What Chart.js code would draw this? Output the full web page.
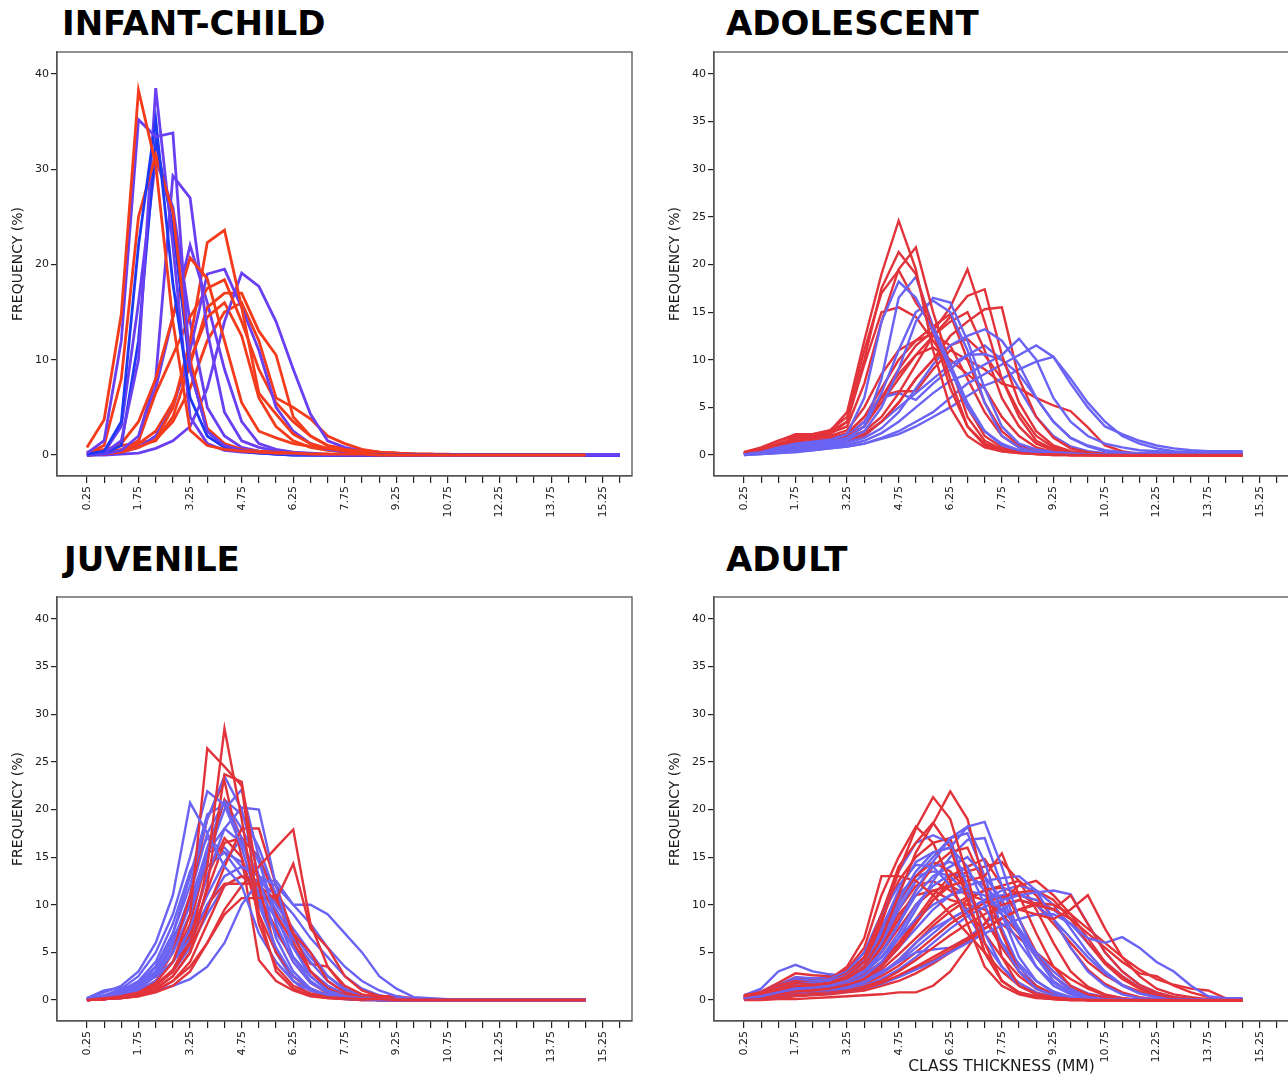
<!DOCTYPE html>
<html>
<head>
<meta charset="utf-8">
<script src="https://cdn.jsdelivr.net/npm/chart.js@4.4.0/dist/chart.umd.min.js"></script>
<style>
  body { margin: 0; background: #fff; width: 1288px; height: 1077px; overflow: hidden; position: relative; }
  .ttl { position: absolute; font: bold 34px 'DejaVu Sans', sans-serif; line-height: 34px; color: #000; white-space: nowrap; }
  canvas { position: absolute; }
</style>
</head>
<body>
<div class="ttl" style="left:62px;top:6px">INFANT-CHILD</div>
<div class="ttl" style="left:726px;top:6px">ADOLESCENT</div>
<div class="ttl" style="left:64px;top:542px">JUVENILE</div>
<div class="ttl" style="left:726px;top:542px">ADULT</div>
<canvas id="c1" width="640" height="490" style="left:0;top:40px"></canvas>
<canvas id="c2" width="640" height="490" style="left:657px;top:40px"></canvas>
<canvas id="c3" width="640" height="490" style="left:0;top:585px"></canvas>
<canvas id="c4" width="640" height="492" style="left:657px;top:585px"></canvas>
<script>
// class thickness (mm), bin centres
const xs = [0.25,0.75,1.25,1.75,2.25,2.75,3.25,3.75,4.25,4.75,5.25,5.75,6.25,6.75,7.25,7.75,
            8.25,8.75,9.25,9.75,10.25,10.75,11.25,11.75,12.25,12.75,13.25,13.75,14.25,14.75,15.25,15.75];
const xLabels = ['0.25','1.75','3.25','4.75','6.25','7.75','9.25','10.75','12.25','13.75','15.25'];
const yTicksInfant = [0,10,20,30,40];
const yTicks = [0,5,10,15,20,25,30,35,40];

// ---- infant-child ----
const infantRed = [
  [0.8,3.7,14.8,38.3,30.5,14.0,2.6,1.0,0.6,0.4, 0.3,0.2,0.2,0.1,0.1,0.1,0.1,0,0,0, 0,0,0,0,0,0,0,0,0,0],
  [0.2,1.0,8.0,25.0,31.5,25.5,10.0,2.8,1.2,0.6, 0.4,0.3,0.2,0.1,0.1,0,0,0,0,0, 0,0,0,0,0,0,0,0,0,0],
  [0.1,0.3,1.2,3.5,8.0,14.5,20.7,18.5,12.0,5.5, 2.5,1.8,1.2,0.9,0.7,0.5,0.4,0.3,0.2,0.1, 0.1,0,0,0,0,0,0,0,0,0],
  [0,0.1,0.3,0.8,1.6,5.0,12.0,22.3,23.6,15.5, 6.5,4.3,2.2,1.2,0.7,0.4,0.3,0.2,0.1,0.1, 0,0,0,0,0,0,0,0,0,0],
  [0,0.1,0.5,1.5,6.5,10.5,14.5,17.5,18.4,14.0, 9.0,5.5,3.5,2.0,1.0,0.6,0.4,0.2,0.1,0.1, 0,0,0,0,0,0,0,0,0,0],
  [0.1,0.2,0.4,1.0,1.5,4.0,9.5,15.5,17.0,17.0, 13.0,10.5,4.0,2.0,1.0,0.7,0.5,0.3,0.2,0.1, 0.1,0.1,0,0,0,0,0,0,0,0],
  [0,0.2,0.6,1.2,2.5,5.5,10.0,14.5,16.0,12.5, 6.0,3.0,1.5,0.8,0.5,0.3,0.2,0.1,0.1,0, 0,0,0,0,0,0,0,0,0,0],
  [0.3,0.6,1.0,1.3,1.6,3.5,7.0,12.0,15.0,16.0, 12.0,6.0,5.0,3.8,2.0,1.2,0.6,0.3,0.2,0.1, 0.1,0,0,0,0,0,0,0,0,0]
];
const infantPurple = [
  [0.2,1.5,12.0,35.2,33.4,33.8,9.0,2.5,1.0,0.5, 0.3,0.2,0.1,0.1,0,0,0,0,0,0, 0,0,0,0,0,0,0,0,0,0, 0,0],
  [0,0.2,1.5,10.0,38.5,22.0,4.0,1.2,0.5,0.3, 0.2,0.1,0.1,0,0,0,0,0,0,0, 0,0,0,0,0,0,0,0,0,0, 0,0],
  [0,0.1,0.5,2.0,8.0,29.3,27.0,13.0,4.5,1.5, 0.8,0.4,0.2,0.1,0,0,0,0,0,0, 0,0,0,0,0,0,0,0,0,0, 0,0],
  [0,0.1,0.3,0.8,2.0,5.0,11.0,19.0,19.5,15.5, 11.0,5.0,2.5,1.2,0.6,0.3,0.2,0.1,0,0, 0,0,0,0,0,0,0,0,0,0, 0,0],
  [0,0,0.1,0.2,0.7,1.5,3.0,7.0,14.0,19.1, 17.7,14.0,9.0,4.3,1.5,0.8,0.4,0.2,0.1,0.1, 0,0,0,0,0,0,0,0,0,0, 0,0],
  [0,0.3,3.0,16.0,31.0,26.0,14.0,5.0,2.0,0.8, 0.4,0.2,0.1,0.1,0,0,0,0,0,0, 0,0,0,0,0,0,0,0,0,0, 0,0],
  [0,0.1,0.4,1.5,7.0,14.5,22.0,16.0,9.0,3.5, 1.2,0.6,0.3,0.2,0.1,0,0,0,0,0, 0,0,0,0,0,0,0,0,0,0, 0,0]
];
const infantBlue = [
  [0.1,0.4,3.5,22.0,35.2,18.0,6.0,2.0,0.8,0.4, 0.2,0.1,0,0,0,0,0,0,0,0, 0,0,0,0,0,0,0,0,0,0, 0,0],
  [0,0.2,1.0,12.0,33.0,24.0,9.0,2.5,1.0,0.5, 0.3,0.1,0,0,0,0,0,0,0,0, 0,0,0,0,0,0,0,0,0,0, 0,0]
];

// ---- adolescent ----
const adolRed = [
  [0.3,0.8,1.5,2.0,2.2,2.5,4.5,12.0,19.0,24.6, 19.5,11.0,5.0,2.0,0.8,0.4,0.2,0.1,0.1,0, 0,0,0,0,0,0,0,0,0,0],
  [0.2,0.6,1.2,1.8,2.0,2.5,3.5,10.0,17.5,21.3, 19.0,13.0,7.0,3.0,1.2,0.5,0.3,0.1,0,0, 0,0,0,0,0,0,0,0,0,0],
  [0.2,0.5,1.0,1.5,2.0,2.3,3.0,7.5,14.0,19.5, 21.8,15.0,9.5,4.0,1.5,0.6,0.3,0.2,0.1,0, 0,0,0,0,0,0,0,0,0,0],
  [0.3,0.7,1.5,2.2,2.2,2.6,4.0,11.0,17.0,19.4, 16.0,13.5,8.0,3.0,1.0,0.4,0.2,0.1,0,0, 0,0,0,0,0,0,0,0,0,0],
  [0.2,0.5,1.2,1.6,1.8,2.2,3.5,9.5,15.0,15.5, 14.5,12.0,9.5,5.0,2.0,0.8,0.3,0.2,0.1,0, 0,0,0,0,0,0,0,0,0,0],
  [0.1,0.3,0.8,1.2,1.4,1.6,2.0,3.0,6.0,9.0, 11.5,13.0,15.5,19.5,14.0,8.0,4.0,1.5,0.6,0.3, 0.2,0.1,0,0,0,0,0,0,0,0],
  [0.1,0.2,0.6,1.0,1.2,1.5,1.8,2.5,4.0,6.5, 9.5,12.5,14.5,16.7,17.4,10.5,5.5,2.5,1.0,0.4, 0.2,0.1,0,0,0,0,0,0,0,0],
  [0.1,0.2,0.5,0.8,1.0,1.3,1.6,2.2,3.5,5.5, 8.0,10.0,12.5,14.0,15.3,15.5,8.0,4.0,1.8,0.7, 0.3,0.1,0,0,0,0,0,0,0,0],
  [0.1,0.3,0.7,1.0,1.3,1.6,2.0,3.0,5.5,8.0, 10.5,12.5,14.0,15.0,11.0,6.0,3.0,1.2,0.5,0.2, 0.1,0,0,0,0,0,0,0,0,0],
  [0.2,0.4,1.0,1.3,1.5,1.8,2.3,4.0,7.0,10.0, 12.0,13.5,14.8,10.0,5.5,2.5,1.0,0.4,0.2,0.1, 0,0,0,0,0,0,0,0,0,0],
  [0.2,0.5,1.2,1.5,1.7,2.0,2.6,5.0,8.5,11.0, 12.0,12.7,11.5,8.0,4.5,2.0,0.8,0.3,0.1,0, 0,0,0,0,0,0,0,0,0,0],
  [0.1,0.3,0.8,1.2,1.3,1.6,2.2,4.0,6.2,6.7, 6.7,9.0,11.0,10.0,9.0,7.5,7.0,6.0,5.2,4.6, 2.9,1.0,0.4,0.1,0,0,0,0,0,0],
  [0.1,0.3,0.8,1.0,1.2,1.5,2.0,3.5,6.0,8.5, 10.5,11.3,10.0,8.5,7.0,4.0,2.0,0.8,0.3,0.1, 0,0,0,0,0,0,0,0,0,0],
  [0.1,0.2,0.5,0.8,1.0,1.2,1.5,2.0,3.5,5.5, 8.0,10.0,11.5,12.2,10.5,8.0,4.5,2.0,0.8,0.3, 0.1,0,0,0,0,0,0,0,0,0]
];
const adolBlue = [
  [0.1,0.3,0.8,1.2,1.4,1.6,2.2,6.0,14.0,18.2, 16.5,13.0,9.0,5.0,2.5,1.2,0.5,0.3,0.2,0.1, 0.1,0.1,0.1,0.1,0.1,0.1,0.1,0.1,0.1,0.1],
  [0.1,0.2,0.6,1.0,1.2,1.4,1.8,3.0,8.0,16.5, 18.7,13.5,9.5,5.5,2.5,1.0,0.5,0.2,0.1,0.1, 0.1,0.1,0.1,0.1,0.1,0.1,0.1,0.1,0.1,0.1],
  [0.1,0.2,0.5,0.8,1.0,1.2,1.6,2.5,5.0,9.0, 14.0,16.5,16.0,12.0,7.0,3.0,1.2,0.6,0.3,0.2, 0.1,0.1,0.1,0.1,0.1,0.1,0.1,0.1,0.1,0.1],
  [0.1,0.2,0.6,0.9,1.0,1.3,1.8,3.0,6.5,11.0, 15.0,16.2,15.0,11.0,5.5,2.0,0.8,0.3,0.2,0.1, 0.1,0.1,0.1,0.1,0.1,0.1,0.1,0.1,0.1,0.1],
  [0.1,0.2,0.4,0.6,0.8,1.0,1.3,1.8,2.8,4.5, 7.0,9.5,11.5,12.5,13.2,12.0,9.5,6.0,3.5,1.8, 1.0,0.5,0.3,0.2,0.2,0.2,0.2,0.2,0.2,0.2],
  [0.1,0.2,0.4,0.6,0.7,0.9,1.1,1.5,2.3,3.5, 5.0,6.5,7.8,8.5,9.5,10.5,12.2,10.0,6.0,3.5, 2.0,1.2,0.8,0.5,0.4,0.3,0.3,0.3,0.3,0.3],
  [0,0.1,0.2,0.4,0.5,0.7,0.9,1.2,1.8,2.5, 3.5,4.5,6.0,7.5,8.5,9.5,10.5,11.5,10.3,7.5, 5.0,3.0,2.2,1.5,1.0,0.7,0.5,0.4,0.4,0.4],
  [0.1,0.2,0.4,0.7,0.9,1.1,1.5,2.2,3.5,5.0, 6.5,8.0,9.5,10.5,10.6,10.0,8.5,6.0,3.5,1.8, 0.9,0.4,0.2,0.1,0.1,0.1,0.1,0.1,0.1,0.1],
  [0.1,0.2,0.5,0.8,1.0,1.3,2.0,3.5,6.0,6.5, 5.8,7.5,9.0,10.5,11.5,10.0,7.0,4.0,2.0,0.9, 0.4,0.2,0.1,0.1,0.1,0.1,0.1,0.1,0.1,0.1],
  [0,0.1,0.2,0.3,0.5,0.7,0.9,1.2,1.7,2.2, 3.0,4.0,5.0,6.2,7.3,8.0,9.0,9.8,10.3,8.0, 5.5,3.5,2.0,1.2,0.7,0.4,0.3,0.3,0.3,0.3]
];

// ---- juvenile ----
const juvRed = [
  [0,0.1,0.3,0.6,1.5,3.0,6.0,14.0,28.5,19.0, 8.0,3.5,1.5,0.7,0.3,0.2,0.1,0.1,0,0, 0,0,0,0,0,0,0,0,0,0],
  [0,0.2,0.4,0.8,1.8,4.0,9.0,26.4,24.5,22.5, 9.0,3.0,1.2,0.5,0.2,0.1,0,0,0,0, 0,0,0,0,0,0,0,0,0,0],
  [0,0.1,0.2,0.5,1.2,2.5,5.0,12.0,23.7,22.9, 12.0,5.0,2.5,1.0,0.4,0.2,0.1,0,0,0, 0,0,0,0,0,0,0,0,0,0],
  [0,0.1,0.2,0.4,0.8,1.5,3.0,6.0,9.5,12.0, 14.0,16.0,17.9,8.0,3.5,1.5,0.6,0.3,0.1,0, 0,0,0,0,0,0,0,0,0,0],
  [0,0.1,0.2,0.5,1.0,2.0,4.0,8.0,12.0,13.0, 12.0,10.5,14.3,7.5,5.5,2.5,1.0,0.4,0.1,0, 0,0,0,0,0,0,0,0,0,0],
  [0,0.1,0.3,0.6,1.2,2.5,5.0,9.5,14.0,18.0, 18.0,12.0,7.0,3.0,1.2,0.5,0.2,0.1,0,0, 0,0,0,0,0,0,0,0,0,0],
  [0,0.1,0.3,0.7,1.5,3.0,6.0,10.0,12.2,12.2, 12.2,9.0,6.0,3.0,1.2,0.5,0.2,0.1,0,0, 0,0,0,0,0,0,0,0,0,0],
  [0,0.1,0.2,0.4,1.0,2.0,3.5,6.0,9.0,10.7, 10.7,11.0,7.0,5.0,2.0,0.8,0.3,0.1,0,0, 0,0,0,0,0,0,0,0,0,0],
  [0,0.1,0.3,0.8,2.0,5.0,11.0,19.0,23.0,15.0, 4.2,2.0,1.0,0.4,0.2,0.1,0,0,0,0, 0,0,0,0,0,0,0,0,0,0],
  [0,0.1,0.3,0.7,1.5,3.0,7.0,13.0,17.0,15.0, 9.0,5.0,2.5,1.2,0.5,0.2,0.1,0,0,0, 0,0,0,0,0,0,0,0,0,0],
  [0,0.2,0.5,1.0,2.0,4.0,8.0,15.0,21.0,17.0, 11.0,7.5,4.0,1.8,0.7,0.3,0.1,0,0,0, 0,0,0,0,0,0,0,0,0,0],
  [0.1,0.2,0.4,0.8,1.6,3.2,6.5,11.5,16.5,17.0, 15.0,10.5,6.5,3.8,3.5,1.2,0.5,0.4,0.4,0.2, 0.1,0.1,0.1,0.1,0.1,0.1,0.1,0.1,0.1,0.1]
];
const juvBlue = [
  [0.2,0.8,1.5,3.0,6.0,11.0,20.7,17.5,14.0,12.0, 7.0,4.0,2.0,1.0,0.5,0.2,0.1,0,0,0, 0,0,0,0,0,0,0,0,0,0],
  [0.1,0.5,1.2,2.5,5.0,9.0,15.0,21.9,20.5,16.0, 10.0,5.5,2.5,1.2,0.5,0.2,0.1,0,0,0, 0,0,0,0,0,0,0,0,0,0],
  [0.1,0.3,0.8,1.8,3.5,7.0,12.0,19.0,23.5,20.0, 13.0,6.5,3.0,1.2,0.5,0.2,0.1,0,0,0, 0,0,0,0,0,0,0,0,0,0],
  [0.1,0.2,0.6,1.2,2.5,5.0,9.0,15.0,20.0,22.1, 15.0,8.0,4.0,1.8,0.8,0.3,0.1,0,0,0, 0,0,0,0,0,0,0,0,0,0],
  [0,0.2,0.5,1.0,2.0,4.0,7.5,13.0,18.0,20.2, 20.0,12.0,5.5,2.5,1.0,0.4,0.2,0.1,0,0, 0,0,0,0,0,0,0,0,0,0],
  [0.1,0.3,0.8,1.5,2.5,4.0,6.5,10.0,13.0,14.0, 13.0,12.0,10.0,10.0,9.0,7.0,5.0,2.5,1.2,0.3, 0.2,0.1,0.1,0.1,0.1,0.1,0.1,0.1,0.1,0.1],
  [0,0.1,0.2,0.5,1.0,1.5,2.2,3.5,6.0,10.0, 12.5,12.5,10.0,8.0,5.5,3.5,2.0,1.0,0.4,0.1, 0.1,0.1,0.1,0.1,0.1,0.1,0.1,0.1,0.1,0.1],
  [0.2,1.0,1.3,1.5,3.5,7.0,13.0,19.5,20.5,17.0, 11.0,5.0,2.0,0.5,0.3,0.1,0,0,0,0, 0,0,0,0,0,0,0,0,0,0],
  [0.1,0.3,0.7,1.5,3.0,6.0,11.0,17.5,20.8,18.0, 14.5,9.0,4.5,2.0,0.8,0.3,0.1,0,0,0, 0,0,0,0,0,0,0,0,0,0],
  [0,0.2,0.6,1.5,3.0,6.0,10.5,15.5,18.0,16.5, 13.0,10.0,7.5,5.0,2.5,1.2,0.5,0.2,0,0, 0,0,0,0,0,0,0,0,0,0],
  [0.1,0.3,0.8,1.8,3.5,6.5,10.0,14.0,15.5,14.5, 12.0,9.5,6.5,4.0,2.0,0.8,0.3,0.1,0,0, 0,0,0,0,0,0,0,0,0,0],
  [0,0.2,0.5,1.2,2.5,5.0,9.0,15.5,16.0,14.0, 10.5,7.0,4.5,2.5,1.0,0.4,0.2,0,0,0, 0,0,0,0,0,0,0,0,0,0],
  [0.1,0.4,1.0,2.0,4.0,8.0,13.5,17.0,15.5,13.0, 11.5,8.5,5.5,3.0,1.5,0.6,0.2,0,0,0, 0,0,0,0,0,0,0,0,0,0],
  [0,0.1,0.4,1.0,2.0,4.0,7.0,11.0,14.5,17.0, 15.0,11.0,7.0,4.5,2.5,1.0,0.4,0.1,0,0, 0,0,0,0,0,0,0,0,0,0],
  [0,0.1,0.3,0.8,1.6,3.0,5.5,9.0,12.0,13.0, 12.5,11.0,9.0,6.5,4.5,2.5,1.2,0.5,0.2,0, 0,0,0,0,0,0,0,0,0,0],
  [0.1,0.2,0.5,1.2,2.8,5.5,10.0,16.0,21.0,19.5, 16.0,11.0,6.0,3.0,1.5,0.6,0.2,0,0,0, 0,0,0,0,0,0,0,0,0,0]
];

// ---- adult ----
const adultRed = [
  [0.4,0.7,1.2,1.8,1.6,1.8,2.5,4.0,8.0,13.5, 18.0,21.3,19.0,13.0,6.0,2.0,0.8,0.4,0.2,0.1, 0,0,0,0,0,0,0,0,0,0],
  [0.3,0.6,1.0,1.5,1.4,1.7,2.2,3.5,6.5,11.0, 15.5,18.5,21.9,19.0,12.0,4.5,1.5,0.6,0.3,0.1, 0,0,0,0,0,0,0,0,0,0],
  [0.5,0.8,1.5,2.0,1.8,2.0,2.8,4.5,9.0,14.0, 16.5,18.6,16.0,10.5,5.0,2.0,0.8,0.3,0.1,0, 0,0,0,0,0,0,0,0,0,0],
  [0.4,0.8,1.6,2.2,2.0,2.3,3.2,5.5,11.0,15.0, 18.2,16.5,12.5,8.0,3.5,1.5,0.6,0.2,0.1,0, 0,0,0,0,0,0,0,0,0,0],
  [0.2,0.3,0.6,0.9,1.0,1.2,1.6,2.2,3.5,5.5, 8.0,10.5,12.0,12.5,13.0,15.4,11.0,7.0,3.5,1.5, 0.6,0.3,0.1,0,0,0,0,0,0,0],
  [0.1,0.2,0.3,0.5,0.6,0.7,0.9,1.2,1.8,2.6, 3.5,4.5,5.5,6.5,7.5,8.5,9.5,9.0,8.5,9.5, 11.0,7.5,4.5,2.5,1.2,0.6,0.3,0.1,0,0],
  [0.1,0.2,0.4,0.6,0.7,0.8,1.0,1.4,2.0,3.0, 4.2,5.5,6.8,8.0,9.0,10.0,10.5,10.0,9.5,11.0, 8.0,5.0,3.0,1.6,0.8,0.3,0.1,0,0,0],
  [0.3,0.6,1.3,2.0,1.9,2.2,3.5,6.5,13.0,13.0, 12.5,11.0,9.0,7.0,5.0,3.0,1.5,0.7,0.3,0.1, 0,0,0,0,0,0,0,0,0,0],
  [0.1,0.2,0.3,0.5,0.6,0.8,1.0,1.3,1.8,2.5, 3.3,4.2,5.2,6.3,7.5,8.6,9.5,10.0,9.5,8.5, 7.0,5.5,4.0,2.8,2.5,1.5,0.8,0.3,0.1,0],
  [0.1,0.1,0.2,0.4,0.5,0.6,0.8,1.0,1.5,2.0, 2.8,3.8,5.0,6.2,7.5,8.6,9.5,10.2,10.0,9.0, 7.5,6.0,4.5,3.2,2.2,1.6,1.2,1.0,0.2,0],
  [0,0,0.1,0.1,0.2,0.3,0.4,0.5,0.6,0.8, 0.8,1.5,3.0,5.5,8.0,10.5,12.0,12.5,11.0,9.0, 6.5,4.0,2.5,1.3,0.6,0.2,0.1,0,0,0],
  [0.3,0.5,0.9,1.3,1.2,1.5,2.0,3.0,5.5,8.5, 11.5,14.0,15.5,16.0,12.0,7.0,3.0,1.2,0.5,0.2, 0,0,0,0,0,0,0,0,0,0],
  [0.5,0.9,1.8,2.8,2.6,2.5,2.8,4.0,7.0,10.5, 13.0,14.5,13.5,11.5,8.5,5.5,3.0,1.5,0.6,0.2, 0,0,0,0,0,0,0,0,0,0],
  [0.2,0.4,0.8,1.1,1.2,1.4,1.8,2.6,4.0,6.0, 8.5,11.0,13.0,14.0,14.8,12.0,8.5,5.0,2.5,1.0, 0.4,0.1,0,0,0,0,0,0,0,0],
  [0.1,0.2,0.5,0.8,0.9,1.0,1.3,1.8,2.8,4.2, 6.0,7.8,9.3,10.5,11.5,12.0,12.5,11.0,8.5,5.5, 3.2,1.7,0.8,0.3,0.1,0,0,0,0,0],
  [0.1,0.2,0.4,0.7,0.8,1.0,1.2,1.7,2.5,3.6, 5.0,6.5,8.0,9.2,10.2,10.8,11.3,11.5,10.5,8.5, 6.0,3.8,2.2,1.2,0.5,0.2,0.1,0,0,0],
  [0.4,0.8,1.5,2.4,2.2,2.0,2.4,3.5,6.0,9.5, 12.0,12.5,11.5,9.5,7.0,4.5,2.5,1.2,0.5,0.2, 0,0,0,0,0,0,0,0,0,0],
  [0.2,0.4,0.8,1.2,1.3,1.5,2.0,3.0,5.0,7.5, 10.0,11.5,12.0,11.0,10.5,9.0,7.0,4.5,2.5,1.2, 0.5,0.2,0,0,0,0,0,0,0,0],
  [0.3,0.6,1.2,1.8,1.7,2.0,2.8,4.5,8.5,12.5, 15.0,16.5,17.0,11.0,5.0,2.0,0.8,0.3,0.1,0, 0,0,0,0,0,0,0,0,0,0],
  [0.2,0.3,0.6,1.0,1.1,1.3,1.7,2.4,3.8,5.8, 8.2,10.5,12.5,13.5,14.0,14.5,12.5,9.5,6.0,3.0, 1.4,0.6,0.2,0,0,0,0,0,0,0],
  [0.1,0.3,0.6,1.0,1.1,1.3,1.6,2.2,3.2,4.8, 6.5,8.2,9.8,10.8,11.5,11.8,11.2,10.0,8.0,6.0, 4.0,2.6,1.6,0.9,0.4,0.2,0,0,0,0],
  [0.3,0.5,1.0,1.5,1.4,1.6,2.0,3.2,5.8,9.0, 11.0,11.5,10.5,10.0,9.5,8.0,6.5,5.0,3.5,2.2, 1.2,0.5,0.2,0,0,0,0,0,0,0]
];
const adultBlue = [
  [0.2,0.4,0.8,1.2,1.3,1.5,2.0,3.0,5.0,8.0, 11.5,14.5,17.0,18.2,18.7,14.0,8.5,4.5,2.0,0.8, 0.3,0.1,0.1,0.1,0.1,0.1,0.1,0.1,0.1,0.1],
  [0.3,0.6,1.2,1.8,1.8,2.0,2.6,4.0,7.0,10.5, 13.5,15.5,16.0,18.2,14.5,9.0,4.5,2.0,0.8,0.3, 0.1,0.1,0.1,0.1,0.1,0.1,0.1,0.1,0.1,0.1],
  [0.4,0.8,1.5,2.2,2.0,2.2,3.0,5.0,9.0,13.5, 16.5,17.3,16.5,12.0,7.0,3.5,1.5,0.6,0.2,0.1, 0.1,0.1,0.1,0.1,0.1,0.1,0.1,0.1,0.1,0.1],
  [0.3,0.6,1.2,1.8,1.7,1.9,2.5,4.0,7.5,11.5, 14.5,15.5,16.0,14.0,10.0,6.0,3.0,1.2,0.5,0.2, 0.1,0.1,0.1,0.1,0.1,0.1,0.1,0.1,0.1,0.1],
  [0.5,1.2,3.0,3.7,3.0,2.7,2.5,3.0,4.5,6.5, 8.5,10.0,11.0,11.5,11.0,9.5,7.5,5.0,3.0,1.5, 0.7,0.3,0.1,0.1,0.1,0.1,0.1,0.1,0.1,0.1],
  [0.1,0.2,0.3,0.5,0.6,0.7,0.9,1.2,1.7,2.4, 3.2,4.0,5.0,6.0,7.0,7.8,8.5,9.0,9.0,8.0, 6.5,6.0,6.6,5.5,4.0,3.0,1.5,0.4,0.2,0.2],
  [0.1,0.2,0.4,0.6,0.7,0.9,1.1,1.5,2.2,3.2, 4.5,6.0,7.5,8.8,9.8,10.5,11.0,11.3,11.5,11.1, 8.0,5.0,3.0,1.6,0.8,0.3,0.1,0.1,0.1,0.1],
  [0.2,0.3,0.6,0.9,1.0,1.2,1.5,2.2,3.5,5.5, 7.5,9.5,11.0,12.0,12.5,12.8,13.0,11.5,8.5,5.5, 3.0,1.5,0.6,0.2,0.1,0.1,0.1,0.1,0.1,0.1],
  [0.3,0.5,1.0,1.5,1.5,1.7,2.2,3.5,6.0,9.5, 12.5,14.0,14.5,13.5,11.5,9.0,6.0,3.5,1.8,0.8, 0.3,0.1,0.1,0.1,0.1,0.1,0.1,0.1,0.1,0.1],
  [0.2,0.4,0.9,1.4,1.5,1.6,2.0,3.0,5.0,8.0, 11.0,13.0,14.0,15.0,13.0,10.5,7.5,4.5,2.5,1.0, 0.4,0.1,0.1,0.1,0.1,0.1,0.1,0.1,0.1,0.1],
  [0.4,0.8,1.6,2.4,2.3,2.3,3.0,5.0,9.0,12.0, 14.2,14.0,12.0,9.0,6.0,3.5,1.8,0.8,0.3,0.1, 0.1,0.1,0.1,0.1,0.1,0.1,0.1,0.1,0.1,0.1],
  [0.1,0.2,0.5,0.8,0.9,1.0,1.3,1.8,2.8,4.2, 6.0,7.5,8.5,9.5,10.5,11.5,12.0,11.5,10.0,7.5, 5.0,3.0,1.6,0.7,0.3,0.1,0.1,0.1,0.1,0.1],
  [0.2,0.3,0.7,1.0,1.1,1.3,1.7,2.5,4.0,6.5, 9.5,12.5,15.0,16.8,17.0,12.0,7.0,3.5,1.5,0.6, 0.2,0.1,0.1,0.1,0.1,0.1,0.1,0.1,0.1,0.1],
  [0.1,0.3,0.6,1.0,1.1,1.2,1.5,2.0,3.0,4.0, 5.0,5.3,5.5,6.5,8.0,9.5,10.5,10.0,8.5,6.5, 4.5,2.8,1.5,0.7,0.3,0.1,0.1,0.1,0.1,0.1],
  [0.3,0.6,1.3,2.0,2.0,2.1,2.7,4.2,7.5,11.0, 13.0,13.5,13.0,11.0,8.5,6.0,3.8,2.0,0.9,0.3, 0.1,0.1,0.1,0.1,0.1,0.1,0.1,0.1,0.1,0.1],
  [0.2,0.4,0.8,1.2,1.3,1.4,1.9,2.8,4.5,7.0, 10.0,12.0,13.2,13.0,12.0,10.0,7.0,4.5,2.5,1.2, 0.5,0.2,0.1,0.1,0.1,0.1,0.1,0.1,0.1,0.1],
  [0.1,0.2,0.5,0.8,0.9,1.0,1.3,1.8,2.8,4.0, 5.5,7.0,8.5,9.5,10.5,11.0,11.0,10.5,9.5,8.0, 6.0,4.0,2.5,1.3,0.6,0.2,0.1,0.1,0.1,0.1],
  [0.2,0.5,1.0,1.5,1.5,1.7,2.3,3.6,6.5,10.0, 13.0,15.0,17.0,17.5,13.0,7.5,3.5,1.5,0.6,0.2, 0.1,0.1,0.1,0.1,0.1,0.1,0.1,0.1,0.1,0.1]
];

const RED_IC = '#f43c1c', PURPLE_IC = '#6a3ff2', BLUE_IC = '#1e38f4';
const RED = '#e2333b', BLUE = '#6a63f3';

function pts(vals) { return vals.map((v, i) => ({ x: xs[i], y: v })); }

// interleave the groups so neither colour sits entirely on top
function series(groups, lw) {
  const out = [];
  const n = Math.max(...groups.map(g => g[0].length));
  for (let i = 0; i < n; i++) {
    groups.forEach(g => {
      if (g[0][i]) out.push({ data: pts(g[0][i]), borderColor: g[1], borderWidth: lw,
        pointRadius: 0, tension: 0, fill: false });
    });
  }
  return out;
}

const frame = {
  id: 'frame',
  afterDraw(c) {
    const a = c.chartArea, ctx = c.ctx;
    ctx.save();
    ctx.strokeStyle = '#555';
    ctx.lineWidth = 1.3;
    ctx.strokeRect(a.left, a.top, a.right - a.left, a.bottom - a.top);
    ctx.restore();
  }
};

const tickFont = { family: 'DejaVu Sans', size: 11 };

function xAxis(title) {
  return {
    type: 'linear', min: -0.62, max: 16.1,
    afterBuildTicks: s => { s.ticks = xs.map(v => ({ value: v })); },
    afterFit: s => { s.height = title ? 56 : 54; },
    ticks: {
      autoSkip: false, minRotation: 90, maxRotation: 90, padding: 3, color: '#1a1a1a', font: tickFont,
      callback: v => { const t = v.toFixed(2); return xLabels.includes(t) ? t : ''; }
    },
    grid: { drawOnChartArea: false, drawTicks: true, tickLength: 7, color: '#222', lineWidth: 1.2 },
    border: { display: true, color: '#555', width: 1.3 },
    title: title ? { display: true, text: title, color: '#1a1a1a',
      font: { family: 'DejaVu Sans', size: 15.5 }, padding: { top: 0, bottom: 1 } } : { display: false }
  };
}

function yAxis(ticks) {
  return {
    type: 'linear', min: -2.2, max: 42.3,
    afterBuildTicks: s => { s.ticks = ticks.map(v => ({ value: v })); },
    afterFit: s => { s.width = 57; },
    ticks: { color: '#1a1a1a', padding: 2, font: tickFont, callback: v => String(v) },
    grid: { drawOnChartArea: false, tickLength: 6, color: '#222', lineWidth: 1.2 },
    border: { display: true, color: '#555', width: 1.3 },
    title: { display: true, text: 'FREQUENCY (%)', color: '#1a1a1a',
      font: { family: 'DejaVu Sans', size: 14 }, padding: { top: 10, bottom: 0 } }
  };
}

function panel(id, datasets, yT, xTitle) {
  new Chart(document.getElementById(id), {
    type: 'line',
    data: { datasets: datasets },
    options: {
      responsive: false, animation: false, events: [],
      layout: { padding: { top: 12, right: 8, left: 0, bottom: 0 } },
      plugins: { legend: { display: false }, tooltip: { enabled: false } },
      scales: { x: xAxis(xTitle), y: yAxis(yT) }
    },
    plugins: [frame]
  });
}

panel('c1', series([[infantRed, RED_IC], [infantPurple, PURPLE_IC], [infantBlue, BLUE_IC]], 2.8), yTicksInfant, null);
panel('c2', series([[adolRed, RED], [adolBlue, BLUE]], 2.4), yTicks, null);
panel('c3', series([[juvRed, RED], [juvBlue, BLUE]], 2.4), yTicks, null);
panel('c4', series([[adultRed, RED], [adultBlue, BLUE]], 2.4), yTicks, 'CLASS THICKNESS (MM)');
</script>
</body>
</html>
